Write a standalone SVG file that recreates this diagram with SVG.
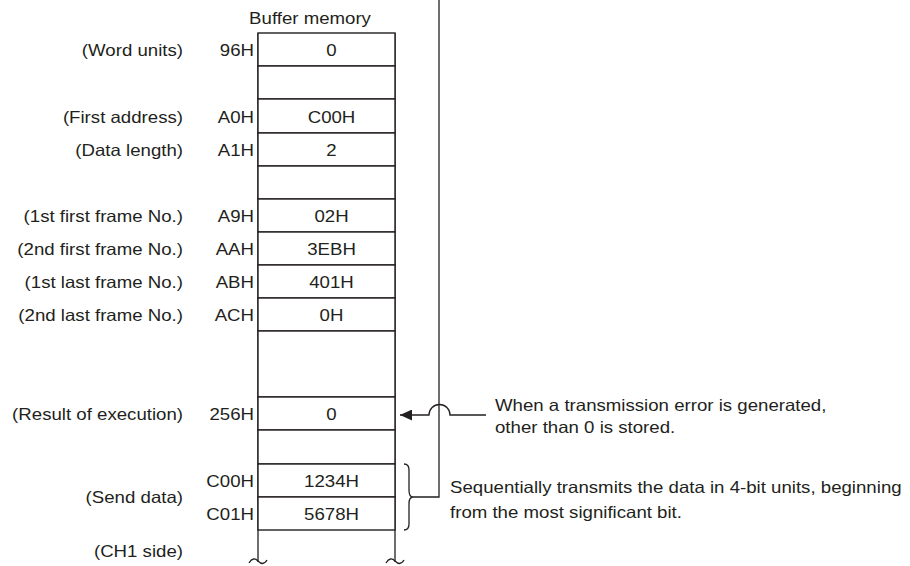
<svg xmlns="http://www.w3.org/2000/svg" width="910" height="566" viewBox="0 0 910 566">
<style>
.t{font-family:"Liberation Sans",Arial,sans-serif;font-size:16.5px;fill:#231f20}
.e{text-anchor:end}
.m{text-anchor:middle}
.c{fill:#fff;stroke:#231f20;stroke-width:1.4}
.ln{fill:none;stroke:#231f20;stroke-width:1.3}
</style>
<defs>
<marker id="ah" markerWidth="12" markerHeight="11" refX="12" refY="5.5" orient="auto" markerUnits="userSpaceOnUse">
<path d="M0,0 L12,5.5 L0,11 Z" fill="#231f20"/>
</marker>
</defs>
<rect width="910" height="566" fill="#fff"/>
<text class="t m" transform="translate(310,24) scale(1.13,1)">Buffer memory</text>
<g id="memory-body">
<path class="ln" d="M258,33 V562 M395,33 V562"/>
<path class="ln" d="M249,563 C252,558 255,558 258,561 C261,564 264,565 267,560"/>
<path class="ln" d="M386,563 C389,558 392,558 395,561 C398,564 401,565 404,560"/>
</g>
<g id="row-96H">
<rect class="c" x="258" y="33" width="137" height="33"/>
<text class="t m" transform="translate(331.5,56) scale(1.13,1)">0</text>
<text class="t e" transform="translate(254,56) scale(1.13,1)">96H</text>
<text class="t e" transform="translate(183,56) scale(1.13,1)">(Word units)</text>
</g>
<g id="row-gap1"><rect class="c" x="258" y="66" width="137" height="33"/></g>
<g id="row-A0H">
<rect class="c" x="258" y="99" width="137" height="34"/>
<text class="t m" transform="translate(331.5,122.5) scale(1.13,1)">C00H</text>
<text class="t e" transform="translate(254,122.5) scale(1.13,1)">A0H</text>
<text class="t e" transform="translate(183,122.5) scale(1.13,1)">(First address)</text>
</g>
<g id="row-A1H">
<rect class="c" x="258" y="133" width="137" height="33"/>
<text class="t m" transform="translate(331.5,156) scale(1.13,1)">2</text>
<text class="t e" transform="translate(254,156) scale(1.13,1)">A1H</text>
<text class="t e" transform="translate(183,156) scale(1.13,1)">(Data length)</text>
</g>
<g id="row-gap2"><rect class="c" x="258" y="166" width="137" height="33"/></g>
<g id="row-A9H">
<rect class="c" x="258" y="199" width="137" height="33"/>
<text class="t m" transform="translate(331.5,222) scale(1.13,1)">02H</text>
<text class="t e" transform="translate(254,222) scale(1.13,1)">A9H</text>
<text class="t e" transform="translate(183,222) scale(1.13,1)">(1st first frame No.)</text>
</g>
<g id="row-AAH">
<rect class="c" x="258" y="232" width="137" height="33"/>
<text class="t m" transform="translate(331.5,255) scale(1.13,1)">3EBH</text>
<text class="t e" transform="translate(254,255) scale(1.13,1)">AAH</text>
<text class="t e" transform="translate(183,255) scale(1.13,1)">(2nd first frame No.)</text>
</g>
<g id="row-ABH">
<rect class="c" x="258" y="265" width="137" height="33"/>
<text class="t m" transform="translate(331.5,288) scale(1.13,1)">401H</text>
<text class="t e" transform="translate(254,288) scale(1.13,1)">ABH</text>
<text class="t e" transform="translate(183,288) scale(1.13,1)">(1st last frame No.)</text>
</g>
<g id="row-ACH">
<rect class="c" x="258" y="298" width="137" height="33"/>
<text class="t m" transform="translate(331.5,321) scale(1.13,1)">0H</text>
<text class="t e" transform="translate(254,321) scale(1.13,1)">ACH</text>
<text class="t e" transform="translate(183,321) scale(1.13,1)">(2nd last frame No.)</text>
</g>
<g id="row-gap3"><rect class="c" x="258" y="331" width="137" height="66"/></g>
<g id="row-256H">
<rect class="c" x="258" y="397" width="137" height="33"/>
<text class="t m" transform="translate(331.5,420) scale(1.13,1)">0</text>
<text class="t e" transform="translate(254,420) scale(1.13,1)">256H</text>
<text class="t e" transform="translate(183,420) scale(1.13,1)">(Result of execution)</text>
</g>
<g id="row-gap4"><rect class="c" x="258" y="430" width="137" height="34"/></g>
<g id="row-C00H">
<rect class="c" x="258" y="464" width="137" height="33"/>
<text class="t m" transform="translate(331.5,487) scale(1.13,1)">1234H</text>
<text class="t e" transform="translate(254,487) scale(1.13,1)">C00H</text>
</g>
<g id="row-C01H">
<rect class="c" x="258" y="497" width="137" height="33"/>
<text class="t m" transform="translate(331.5,520) scale(1.13,1)">5678H</text>
<text class="t e" transform="translate(254,520) scale(1.13,1)">C01H</text>
</g>
<g id="label-send">
<text class="t e" transform="translate(183,503) scale(1.13,1)">(Send data)</text>
<text class="t e" transform="translate(183,557) scale(1.13,1)">(CH1 side)</text>
</g>
<g id="note-error">
<text class="t" transform="translate(495,411) scale(1.13,1)">When a transmission error is generated,</text>
<text class="t" transform="translate(495,432.5) scale(1.13,1)">other than 0 is stored.</text>
</g>
<g id="note-send">
<text class="t" transform="translate(450,493) scale(1.13,1)">Sequentially transmits the data in 4-bit units, beginning</text>
<text class="t" transform="translate(450,518) scale(1.13,1)">from the most significant bit.</text>
</g>
<g id="connectors">
<path class="ln" d="M439,0 V497 H413"/>
<path class="ln" d="M404,464 Q409,464 409,470 V490 Q409,497 413,497 Q409,497 409,504 V524 Q409,530 404,530"/>
<path class="ln" d="M486,415 H450 A10,10 0 0 0 429,415 H400" marker-end="url(#ah)"/>
</g>
</svg>
